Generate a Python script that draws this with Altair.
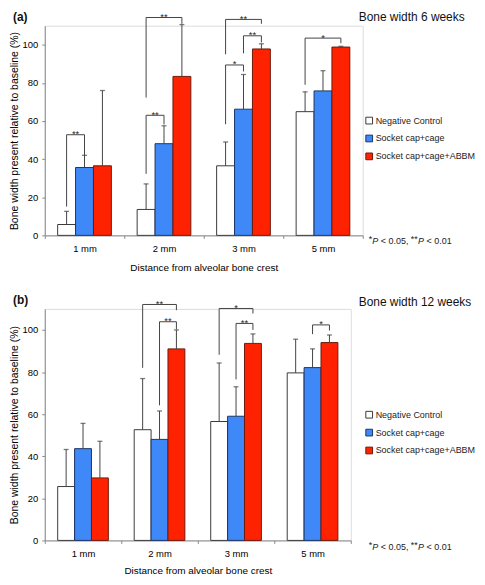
import altair as alt
import pandas as pd

categories = ["1 mm", "2 mm", "3 mm", "5 mm"]
groups = ["Negative Control", "Socket cap+cage", "Socket cap+cage+ABBM"]
fill_colors = ["#ffffff", "#3f88f8", "#ff2200"]
stroke_colors = ["#3a3a3a", "#1d3566", "#6e1a0e"]

# (a) Bone width 6 weeks: means and top of error bars, per group
a_nc_mean = [5.7, 13.6, 36.5, 64.9]
a_nc_upper = [12.6, 27.0, 49.0, 75.3]
a_sc_mean = [35.6, 48.1, 66.2, 75.8]
a_sc_upper = [42.0, 57.5, 84.4, 86.4]
a_ab_mean = [36.5, 83.4, 97.8, 98.8]
a_ab_upper = [76.0, 110.6, 100.5, 99.2]

# (b) Bone width 12 weeks
b_nc_mean = [25.6, 52.6, 56.5, 79.6]
b_nc_upper = [43.2, 76.9, 84.3, 95.6]
b_sc_mean = [43.6, 48.0, 59.0, 82.1]
b_sc_upper = [55.6, 61.5, 73.0, 91.0]
b_ab_mean = [29.7, 91.0, 93.6, 94.0]
b_ab_upper = [47.1, 100.0, 98.1, 97.6]

# significance brackets: (category, group from, group to, left end, top, right end, label)
a_brackets = [
    ("1 mm", 0, 1, 15.1, 52.8, 41.5, "**"),
    ("2 mm", 0, 1, 32.3, 63.0, 58.2, "**"),
    ("2 mm", 0, 2, 72.3, 114.3, 111.0, "**"),
    ("3 mm", 0, 1, 58.3, 89.4, 86.0, "*"),
    ("3 mm", 1, 2, 95.5, 104.7, 101.2, "**"),
    ("3 mm", 0, 2, 95.0, 113.3, 111.0, "**"),
    ("5 mm", 0, 2, 79.0, 103.5, 100.8, "*"),
]
b_brackets = [
    ("2 mm", 0, 2, 82.0, 112.1, 109.4, "**"),
    ("2 mm", 1, 2, 64.2, 103.9, 100.3, "**"),
    ("3 mm", 0, 2, 88.2, 110.2, 107.8, "*"),
    ("3 mm", 1, 2, 76.5, 103.1, 100.0, "**"),
    ("5 mm", 1, 2, 98.0, 102.4, 99.7, "*"),
]

y_title = "Bone width present relative to baseline (%)"
x_title = "Distance from alveolar bone crest"
y_ticks = [0, 20, 40, 60, 80, 100]
foot_parts = ["*", "P", "< 0.05,", "**", "P", "< 0.01"]
foot_italic = [False, True, False, False, True, False]
foot_dx = [0, 3.6, 12.2, 42.4, 49.6, 58.2]
foot_dy = [-2, 0, 0, -2, 0, 0]

FONT = "Liberation Sans"
TXT = "#222222"
LINE = "#444444"


def panel(means, uppers, brackets, tag, title, width, height, bar_pad,
          legend_y, foot_y, tag_y, title_y, x_title_pad):
    rows = []
    for gi, g in enumerate(groups):
        for ci, c in enumerate(categories):
            rows.append({"cat": c, "group": g, "val": means[gi][ci], "upper": uppers[gi][ci]})
    df = pd.DataFrame(rows)

    x = alt.X("cat:N", sort=categories, title=x_title,
              scale=alt.Scale(paddingInner=0, paddingOuter=0),
              axis=alt.Axis(labelAngle=0, tickBand="extent", tickSize=3,
                            labelPadding=5, titlePadding=x_title_pad, labelFontSize=9.5,
                            titleFontSize=10, titleFontWeight="normal"))
    xo = alt.XOffset("group:N", sort=groups,
                     scale=alt.Scale(paddingInner=0, paddingOuter=bar_pad))
    yscale = alt.Scale(domain=[0, 110], nice=False)
    yaxis = alt.Axis(values=y_ticks, grid=False, tickSize=3, labelPadding=4,
                     titlePadding=3, labelFontSize=9.5, titleFontSize=10.5,
                     titleFontWeight="normal")

    base = alt.Chart(df)
    bars = base.mark_bar(strokeWidth=1).encode(
        x=x, xOffset=xo,
        y=alt.Y("val:Q", scale=yscale, axis=yaxis, title=y_title),
        fill=alt.Fill("group:N", sort=groups,
                      scale=alt.Scale(domain=groups, range=fill_colors),
                      legend=alt.Legend(title=None, orient="none", legendX=322,
                                        legendY=legend_y, symbolType="square",
                                        symbolSize=46, symbolStrokeColor="#222222",
                                        symbolStrokeWidth=1, labelFontSize=9,
                                        labelColor=TXT, rowPadding=7,
                                        labelOffset=2, labelFont=FONT)),
        stroke=alt.Stroke("group:N", sort=groups,
                          scale=alt.Scale(domain=groups, range=stroke_colors),
                          legend=None),
    )
    err = base.mark_rule(color=LINE, strokeWidth=1).encode(
        x=x, xOffset=xo,
        y=alt.Y("val:Q", scale=yscale, axis=yaxis, title=y_title),
        y2="upper:Q",
    )
    caps = base.mark_tick(color=LINE, size=5, thickness=1.3).encode(
        x=x, xOffset=xo,
        y=alt.Y("upper:Q", scale=yscale, axis=yaxis, title=y_title),
    )

    brows = []
    srows = []
    for i, (c, g1, g2, left, top, right, lab) in enumerate(brackets):
        brows.append({"id": i, "seq": 0, "cat": c, "group": groups[g1], "val": left})
        brows.append({"id": i, "seq": 1, "cat": c, "group": groups[g1], "val": top})
        brows.append({"id": i, "seq": 2, "cat": c, "group": groups[g2], "val": top})
        brows.append({"id": i, "seq": 3, "cat": c, "group": groups[g2], "val": right})
        srows.append({"cat": c, "group": groups[g1], "val": top, "lab": lab, "span": g2 - g1})
    bdf = pd.DataFrame(brows)
    sdf = pd.DataFrame(srows)

    lines = alt.Chart(bdf).mark_line(color=LINE, strokeWidth=1).encode(
        x=x, xOffset=xo,
        y=alt.Y("val:Q", scale=yscale, axis=yaxis, title=y_title),
        detail="id:N", order="seq:Q",
    )
    step = width / 4 / (3 + 2 * bar_pad)
    star_layers = []
    for span in (1, 2):
        sub = sdf[sdf["span"] == span]
        if len(sub) == 0:
            continue
        star_layers.append(
            alt.Chart(sub).mark_text(fontSize=9.5, baseline="alphabetic", dy=2.5,
                                     dx=step * span / 2, color=TXT, font=FONT).encode(
                x=x, xOffset=xo,
                y=alt.Y("val:Q", scale=yscale, axis=yaxis, title=y_title),
                text="lab:N",
            )
        )

    tag_df = pd.DataFrame({"t": [tag]})
    tag_mark = alt.Chart(tag_df).mark_text(fontSize=12, fontWeight="bold", align="left",
                                           baseline="middle", color="#111111",
                                           font=FONT).encode(
        x=alt.value(-32), y=alt.value(tag_y), text="t:N")
    title_df = pd.DataFrame({"t": [title]})
    title_mark = alt.Chart(title_df).mark_text(fontSize=12, align="left",
                                               baseline="middle", color="#111111",
                                               font=FONT).encode(
        x=alt.value(316), y=alt.value(title_y), text="t:N")

    foot_layers = []
    for part, ital, dxp, dyp in zip(foot_parts, foot_italic, foot_dx, foot_dy):
        pdf = pd.DataFrame({"t": [part]})
        foot_layers.append(
            alt.Chart(pdf).mark_text(fontSize=9, align="left", baseline="middle",
                                     fontStyle="italic" if ital else "normal",
                                     color=TXT, font=FONT, dy=dyp).encode(
                x=alt.value(326 + dxp), y=alt.value(foot_y), text="t:N")
        )

    return alt.layer(bars, err, caps, lines, *star_layers, tag_mark, title_mark,
                     *foot_layers).properties(width=width, height=height)


pa = panel([a_nc_mean, a_sc_mean, a_ab_mean], [a_nc_upper, a_sc_upper, a_ab_upper],
           a_brackets, "(a)", "Bone width 6 weeks", 320, 211, 0.72,
           legend_y=91, foot_y=217, tag_y=-9, title_y=-9, x_title_pad=10)
pb = panel([b_nc_mean, b_sc_mean, b_ab_mean], [b_nc_upper, b_sc_upper, b_ab_upper],
           b_brackets, "(b)", "Bone width 12 weeks", 308, 233, 0.765,
           legend_y=102, foot_y=240, tag_y=-9, title_y=-7, x_title_pad=8)

chart = alt.vconcat(pa, pb, spacing=20).resolve_scale(
    x="independent", y="independent", xOffset="independent",
    fill="independent", stroke="independent",
).properties(
    padding={"left": 0, "top": 0, "right": 0, "bottom": 0}
).configure_view(stroke=None).configure_axis(
    labelFont=FONT, titleFont=FONT, labelColor="#333333", titleColor=TXT,
    domainColor="#555555", tickColor="#555555",
).configure(font=FONT)

chart.save("out.html", embed_options={"renderer": "svg", "actions": False})
